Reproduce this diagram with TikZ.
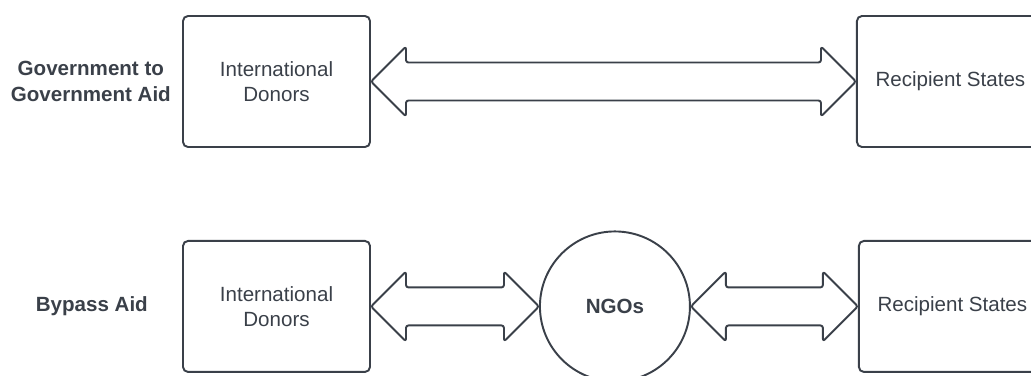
\documentclass[tikz,border=0pt]{standalone}
\usepackage{fontspec}
\setmainfont{Liberation Sans}
\usepackage{tikz}
\usetikzlibrary{positioning,calc}
\definecolor{ink}{HTML}{3A4049}
\tikzstyle{block}=[rectangle,rounded corners=0.1cm,minimum width=3.74cm,
minimum height=2.62cm,text centered,align=center,draw=ink,line width=1.1pt,text=ink,
font=\fontsize{11.7}{14}\selectfont]
\tikzstyle{hub}=[circle,minimum size=3cm,draw=ink,line width=1.1pt,text=ink,
font=\fontsize{11.7}{14}\selectfont\bfseries]
\tikzstyle{tag}=[align=center,text=ink,font=\fontsize{11.7}{14.5}\selectfont\bfseries]
\tikzstyle{fat}=[draw=ink,line width=1.1pt,rounded corners=0.05cm,line join=round]
% two-headed block arrow from #1 to #2
\newcommand{\fatarrow}[2]{%
  \draw [fat] let \p1=(#1.east), \p2=(#2.west) in
    (\p1) -- ++(0.7cm,0.7cm) -- ++(0,-0.32cm) -- (\x2-0.7cm,\y1+0.38cm)
    -- ++(0,0.32cm) -- (\x2,\y1) -- ++(-0.7cm,-0.7cm) -- ++(0,0.32cm)
    -- (\x1+0.7cm,\y1-0.38cm) -- ++(0,-0.32cm) -- cycle;}

\begin{document}
\begin{tikzpicture}
    \useasboundingbox (0,0) rectangle (20.62,-7.5);
        \node (donorsA) [block] at (5.53,-1.63) {International\\Donors};
        \node (statesA) [block,right=9.7cm of donorsA] {Recipient States};
        \node (donorsB) [block,below=1.84cm of donorsA] {International\\Donors};
        \node (ngo) [hub,right=3.36cm of donorsB] {NGOs};
        \node (statesB) [block,right=3.34cm of ngo] {Recipient States};
        \node (g2g) [tag,left=0.1cm of donorsA] {Government to\\Government Aid};
        \node (bypass) [tag,left=0.56cm of donorsB] {Bypass Aid};

        \fatarrow{donorsA}{statesA}
        \fatarrow{donorsB}{ngo}
        \fatarrow{ngo}{statesB}
    \end{tikzpicture}
\end{document}
